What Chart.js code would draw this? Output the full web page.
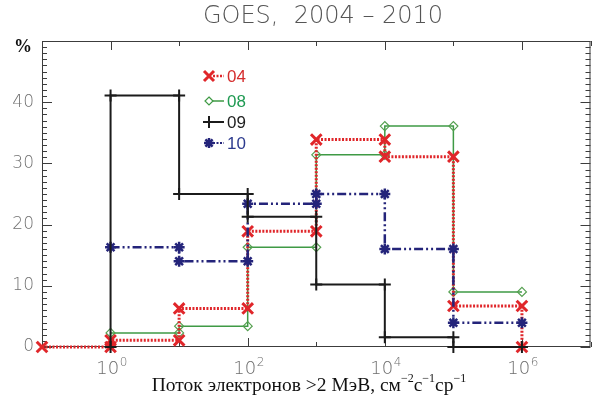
<!DOCTYPE html>
<html>
<head>
<meta charset="utf-8">
<script src="https://cdn.jsdelivr.net/npm/chart.js@4.4.0/dist/chart.umd.min.js"></script>
<style>
  html, body { margin: 0; padding: 0; background: #fff; }
  #wrap { width: 601px; height: 405px; }
</style>
</head>
<body>
<div id="wrap"><canvas id="c" width="601" height="405"></canvas></div>
<script>
// Flux bin edges (electrons >2 MeV, cm^-2 s^-1 sr^-1) and share of days per bin, %
const binEdges = [1e0, 1e1, 1e2, 1e3, 1e4, 1e5, 1e6];
const goes04 = [1.1, 6.3, 18.9, 33.9, 31.1, 6.7];
const goes08 = [2.3, 3.4, 16.3, 31.4, 36.1, 9.0];
const goes09 = [41.1, 25.0, 21.3, 10.2, 1.6, 0];
const goes10 = [16.3, 14.0, 23.4, 25.0, 16.0, 3.95];

const seriesNames = ['04', '08', '09', '10'];
const xTickValues = [1e-1, 1e0, 1e1, 1e2, 1e3, 1e4, 1e5, 1e6, 1e7];
const yTickValues = Array.from({ length: 51 }, (_, i) => i);
const yLabelValues = [0, 10, 20, 30, 40];

// Histogram as a step line: each bin gives a point at both of its edges
function steps(values, lead, tail) {
  const pts = lead ? lead.slice() : [];
  values.forEach((v, i) => {
    pts.push({ x: binEdges[i], y: v });
    pts.push({ x: binEdges[i + 1], y: v });
  });
  return tail ? pts.concat(tail) : pts;
}

const RED = '#e0262a', GREEN = '#3f9a45', BLACK = '#1b1b1b', NAVY = '#24247a';

const datasets = [
  {
    label: seriesNames[0],
    data: steps(goes04, [{ x: 1e-1, y: 0 }, { x: 1e0, y: 0 }], [{ x: 1e6, y: 0 }]),
    borderColor: RED, borderWidth: 3, borderDash: [2, 1.5],
    pointStyle: 'crossRot', pointRadius: 7.5, pointBorderWidth: 3,
    pointBorderColor: RED, order: 3
  },
  {
    label: seriesNames[1],
    data: steps(goes08),
    borderColor: GREEN, borderWidth: 1.5,
    pointStyle: 'rectRot', pointRadius: 4.5, pointBorderWidth: 1.2,
    pointBorderColor: '#55a050', pointBackgroundColor: 'rgba(255,255,255,0)', order: 4
  },
  {
    label: seriesNames[2],
    data: steps(goes09, [{ x: 1e0, y: 0 }]),
    borderColor: BLACK, borderWidth: 2,
    pointStyle: 'cross', pointRadius: 6, pointBorderWidth: 2,
    pointBorderColor: BLACK, order: 1
  },
  {
    label: seriesNames[3],
    data: steps(goes10),
    borderColor: NAVY, borderWidth: 2.5, borderDash: [9, 3, 2, 3, 2, 3],
    pointStyle: 'star', pointRadius: 5.5, pointBorderWidth: 2.5,
    pointBorderColor: NAVY, order: 2
  }
].map(d => Object.assign({ showLine: true, fill: false, clip: false, tension: 0 }, d));

function seg(ctx, x1, y1, x2, y2) {
  ctx.beginPath(); ctx.moveTo(x1, y1); ctx.lineTo(x2, y2); ctx.stroke();
}

// Box with inward tick marks on all four sides, plus power-of-ten labels
const framePlugin = {
  id: 'frame',
  beforeDatasetsDraw(chart) {
    const { ctx, chartArea: a, scales: { x, y } } = chart;
    ctx.save();
    ctx.strokeStyle = '#3c3c3c';
    ctx.lineWidth = 1;
    ctx.strokeRect(a.left + 0.5, a.top + 0.5, a.right - a.left - 1, a.bottom - a.top - 1);
    y.ticks.forEach(t => {
      const py = Math.round(y.getPixelForValue(t.value)) + 0.5;
      const len = t.value % 10 === 0 ? 10 : 5;
      seg(ctx, a.left, py, a.left + len, py);
      seg(ctx, a.right, py, a.right - len, py);
    });
    ctx.fillStyle = '#6e6e6e';
    ctx.textBaseline = 'alphabetic';
    x.ticks.forEach(t => {
      const e = Math.round(Math.log10(t.value));
      const px = Math.round(x.getPixelForValue(t.value)) + 0.5;
      const len = e % 2 === 0 ? 9 : 5;
      seg(ctx, px, a.bottom, px, a.bottom - len);
      seg(ctx, px, a.top, px, a.top + len);
      if (e >= 0 && e % 2 === 0) {
        ctx.font = '300 18px "DejaVu Sans"';
        const wb = ctx.measureText('10').width;
        ctx.font = '300 12px "DejaVu Sans"';
        const we = ctx.measureText(String(e)).width;
        const x0 = px - (wb + we) / 2;
        ctx.font = '300 18px "DejaVu Sans"';
        ctx.textAlign = 'left';
        ctx.fillText('10', x0, a.bottom + 27);
        ctx.font = '300 12px "DejaVu Sans"';
        ctx.fillText(String(e), x0 + wb + 0.5, a.bottom + 19);
      }
    });
    ctx.restore();
  }
};

function marker(ctx, style, cx, cy, r) {
  ctx.beginPath();
  if (style === 'x') {
    ctx.moveTo(cx - r, cy - r); ctx.lineTo(cx + r, cy + r);
    ctx.moveTo(cx + r, cy - r); ctx.lineTo(cx - r, cy + r);
  } else if (style === 'plus') {
    ctx.moveTo(cx - r, cy); ctx.lineTo(cx + r, cy);
    ctx.moveTo(cx, cy - r); ctx.lineTo(cx, cy + r);
  } else if (style === 'star') {
    ctx.moveTo(cx - r, cy); ctx.lineTo(cx + r, cy);
    ctx.moveTo(cx, cy - r); ctx.lineTo(cx, cy + r);
    const d = r * 0.72;
    ctx.moveTo(cx - d, cy - d); ctx.lineTo(cx + d, cy + d);
    ctx.moveTo(cx + d, cy - d); ctx.lineTo(cx - d, cy + d);
  } else if (style === 'diamond') {
    ctx.moveTo(cx, cy - r); ctx.lineTo(cx + r, cy); ctx.lineTo(cx, cy + r);
    ctx.lineTo(cx - r, cy); ctx.closePath();
  }
  ctx.stroke();
}

// Title, axis captions and legend
const textPlugin = {
  id: 'texts',
  afterDraw(chart) {
    const { ctx, chartArea: a } = chart;
    ctx.save();
    // title
    ctx.fillStyle = '#555';
    ctx.font = '200 24px "DejaVu Sans"';
    ctx.textAlign = 'center';
    ctx.textBaseline = 'middle';
    ctx.fillText('GOES,  2004 \u2013 2010', 323, 17);

    // y unit
    ctx.fillStyle = '#111';
    ctx.font = 'bold 18px "Liberation Serif"';
    ctx.textAlign = 'left';
    ctx.fillText('%', 14, 47);

    // x caption with superscripts
    const parts = [
      ['Поток электронов >2 МэВ, см', false], ['−2', true], ['с', false],
      ['−1', true], ['ср', false], ['−1', true]
    ];
    const main = '19.5px "Liberation Serif"', small = '12px "Liberation Serif"';
    let w = 0;
    parts.forEach(([s, sup]) => { ctx.font = sup ? small : main; w += ctx.measureText(s).width; });
    let px = 309 - w / 2;
    ctx.textBaseline = 'alphabetic';
    ctx.fillStyle = '#111';
    parts.forEach(([s, sup]) => {
      ctx.font = sup ? small : main;
      ctx.fillText(s, px, sup ? 382 : 391);
      px += ctx.measureText(s).width;
    });

    // legend
    const items = [
      { name: seriesNames[0], y: 76, color: RED, text: '#d52d2d', style: 'x', r: 5, lw: 3, dash: [2, 1.5], lineW: 2.5 },
      { name: seriesNames[1], y: 101, color: GREEN, text: '#1f9a52', style: 'diamond', r: 4, lw: 1.2, dash: [], lineW: 1.5 },
      { name: seriesNames[2], y: 122, color: BLACK, text: '#1e1e1e', style: 'plus', r: 6, lw: 2, dash: [], lineW: 2 },
      { name: seriesNames[3], y: 143, color: NAVY, text: '#2c3a8e', style: 'star', r: 5, lw: 2.5, dash: [2, 1.5], lineW: 2 }
    ];
    items.forEach(it => {
      const mx = 209;
      ctx.strokeStyle = it.color;
      ctx.lineWidth = it.lineW;
      ctx.setLineDash(it.dash);
      seg(ctx, mx + it.r - 1, it.y, 224, it.y);
      ctx.setLineDash([]);
      ctx.lineWidth = it.lw;
      marker(ctx, it.style, mx, it.y, it.r);
      ctx.fillStyle = it.text;
      ctx.font = '17px "Liberation Sans"';
      ctx.textBaseline = 'middle';
      ctx.textAlign = 'left';
      ctx.fillText(it.name, 227, it.y + 1);
    });
    ctx.restore();
  }
};

new Chart(document.getElementById('c'), {
  type: 'scatter',
  data: { datasets },
  options: {
    responsive: false,
    animation: false,
    events: [],
    layout: { padding: { top: 41, right: 2, left: 0, bottom: 0 } },
    plugins: { legend: { display: false }, title: { display: false }, tooltip: { enabled: false } },
    scales: {
      x: {
        type: 'logarithmic',
        min: 1e-1, max: 1e7,
        grid: { display: false, drawTicks: false },
        border: { display: false },
        afterBuildTicks: s => { s.ticks = xTickValues.map(v => ({ value: v })); },
        afterFit: s => { s.height = 58; },
        ticks: { autoSkip: false, maxRotation: 0, minRotation: 0, display: false }
      },
      y: {
        min: 0, max: 50,
        grid: { display: false, drawTicks: false },
        border: { display: false },
        afterBuildTicks: s => { s.ticks = yTickValues.map(v => ({ value: v })); },
        afterFit: s => { s.width = 42; },
        ticks: {
          autoSkip: false, padding: 8,
          color: '#727272', font: { family: 'DejaVu Sans', size: 17, weight: '300' },
          callback: v => yLabelValues.includes(v) ? String(v) : ''
        }
      }
    }
  },
  plugins: [framePlugin, textPlugin]
});
</script>
</body>
</html>
